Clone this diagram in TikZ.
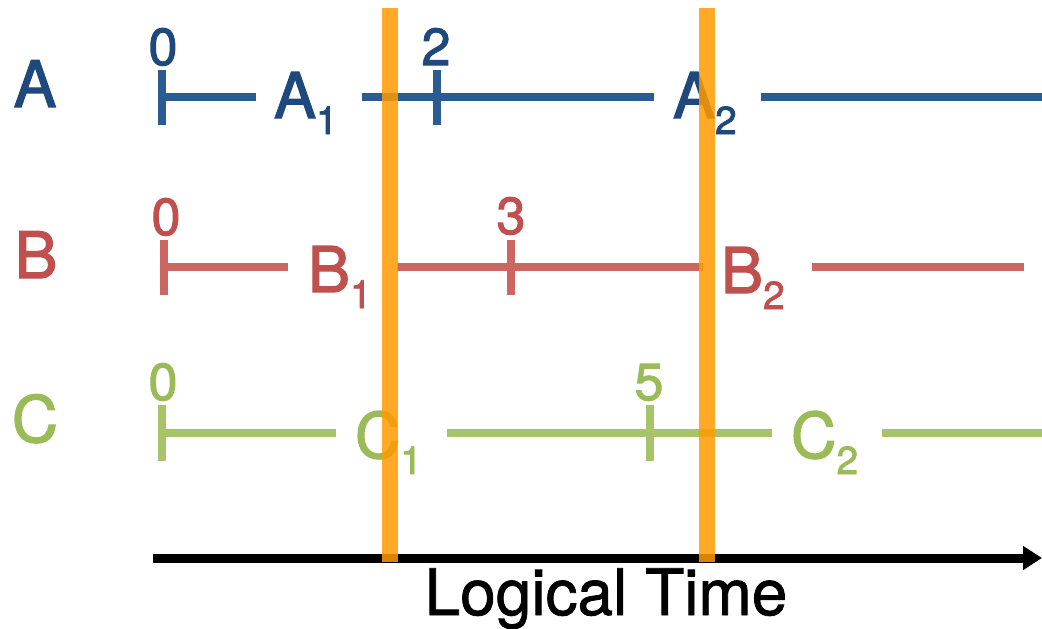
\documentclass[tikz,border=0pt]{standalone}
\usepackage{fontspec}
\setmainfont{TeX Gyre Heros}[FakeBold=2]
\newfontfamily\axisfont{TeX Gyre Heros}[FakeBold=1.2]
\usetikzlibrary{arrows.meta}
\definecolor{atxt}{HTML}{1F497D}
\definecolor{aline}{HTML}{2B5B91}
\definecolor{btxt}{HTML}{C0504D}
\definecolor{bline}{HTML}{CC6661}
\definecolor{ctxt}{HTML}{9BBB59}
\definecolor{cline}{HTML}{A8C46B}
\definecolor{barcol}{HTML}{FF9A00}
\newcommand\fBig{\fontsize{64}{64}\selectfont}
\newcommand\fLab{\fontsize{63}{63}\selectfont}
\newcommand\fSubs{\fontsize{39}{39}\selectfont}
\newcommand\fNum{\fontsize{52}{52}\selectfont}
\newcommand\lbl[2]{{\fLab #1}\raisebox{-16pt}{\fSubs #2}}
\begin{document}
\begin{tikzpicture}[x=1pt,y=-1pt,
  txt/.style={inner sep=0pt, outer sep=0pt, anchor=base},
  lab/.style={inner sep=0pt, outer sep=0pt, anchor=base west},
  seg/.style={line width=8pt},
  barline/.style={line width=16pt, draw=barcol, opacity=0.85}]
\useasboundingbox (0,0) rectangle (1042,629);
% row labels
\node[txt, text=atxt] (rowA) at (35,107) {\fBig A};
\node[txt, text=btxt] (rowB) at (36,278) {\fBig B};
\node[txt, text=ctxt] (rowC) at (35,442) {\fBig C};
% row A
\draw[seg, aline] (162,70) -- (162,125);
\draw[seg, aline] (162,97) -- (256,97);
\draw[seg, aline] (362,97) -- (654,97);
\draw[seg, aline] (761,97) -- (1042,97);
\draw[seg, aline] (437,70) -- (437,125);
\node[txt, text=atxt] (a0) at (163,65) {\fNum 0};
\node[txt, text=atxt] (a2) at (436,65) {\fNum 2};
\node[lab, text=atxt] (A1) at (274,118) {\lbl{A}{1}};
\node[lab, text=atxt] (A2) at (673,118) {\lbl{A}{2}};
% row B
\draw[seg, bline] (164,240) -- (164,295);
\draw[seg, bline] (164,267) -- (288,267);
\draw[seg, bline] (397,267) -- (703,267);
\draw[seg, bline] (812,267) -- (1024,267);
\draw[seg, bline] (511,240) -- (511,295);
\node[txt, text=btxt] (b0) at (166,235) {\fNum 0};
\node[txt, text=btxt] (b3) at (511,234) {\fNum 3};
\node[lab, text=btxt] (B1) at (308,292) {\lbl{B}{1}};
\node[lab, text=btxt] (B2) at (721,293) {\lbl{B}{2}};
% row C
\draw[seg, cline] (162,405) -- (162,461);
\draw[seg, cline] (162,433) -- (336,433);
\draw[seg, cline] (447,433) -- (772,433);
\draw[seg, cline] (882,433) -- (1042,433);
\draw[seg, cline] (650,405) -- (650,461);
\node[txt, text=ctxt] (c0) at (163,400) {\fNum 0};
\node[txt, text=ctxt] (c5) at (649,400) {\fNum 5};
\node[lab, text=ctxt] (C1) at (355,458) {\lbl{C}{1}};
\node[lab, text=ctxt] (C2) at (791,458) {\lbl{C}{2}};
% axis
\coordinate (axs) at (153,558);
\coordinate (axe) at (1042,558);
\draw[line width=9pt, -{Triangle[length=19pt,width=23pt]}] (axs) -- (axe);
\node[txt] (lt) at (606,615) {\axisfont\fontsize{64}{64}\selectfont Logical Time};
% cut bars
\draw[barline] (390,8) -- (390,562);
\draw[barline] (707,8) -- (707,562);
\end{tikzpicture}
\end{document}
